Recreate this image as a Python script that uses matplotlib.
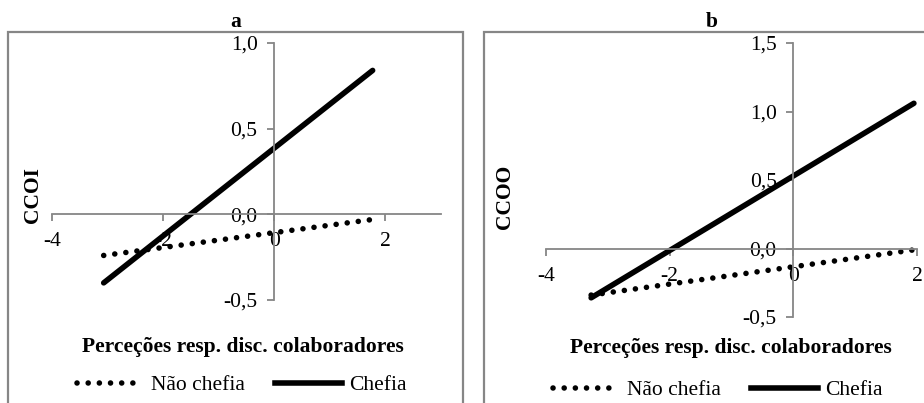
import numpy as np
import matplotlib.pyplot as plt
from matplotlib.patches import Rectangle
from matplotlib.lines import Line2D

plt.rcParams['font.family'] = ['Liberation Serif', 'DejaVu Serif']

# dados
x_a = [-3.07, 1.77]
nao_chefia_a = [-0.24, -0.03]
chefia_a = [-0.40, 0.84]

x_b = [-3.27, 1.95]
nao_chefia_b = [-0.34, -0.01]
chefia_b = [-0.36, 1.06]

xticks = [-4, -2, 0, 2]
xtick_labels = ['-4', '-2', '0', '2']
yticks_a = [-0.5, 0.0, 0.5, 1.0]
ytick_labels_a = ['-0,5', '0,0', '0,5', '1,0']
yticks_b = [-0.5, 0.0, 0.5, 1.0, 1.5]
ytick_labels_b = ['-0,5', '0,0', '0,5', '1,0', '1,5']

W, H = 924, 403
FS = 15.5
GRAY = '#868686'
DOT = (0, (0.01, 2.0))

fig = plt.figure(figsize=(W / 100, H / 100), dpi=100)


def px_axes(x0, x1, y0, y1):
    # caixa em pixels (origem no topo) -> coordenadas da figura
    return fig.add_axes([x0 / W, 1 - y1 / H, (x1 - x0) / W, (y1 - y0) / H])


def painel(ax, x, nao, chefia, xlim, ylim, yt, ytl):
    ax.plot(x, nao, color='black', linewidth=4.0, linestyle=DOT,
            dash_capstyle='round')
    ax.plot(x, chefia, color='black', linewidth=4.0, solid_capstyle='round')
    ax.set_xlim(*xlim)
    ax.set_ylim(*ylim)
    ax.patch.set_visible(False)
    for s in ['top', 'right']:
        ax.spines[s].set_visible(False)
    ax.spines['left'].set_position(('data', 0))
    ax.spines['bottom'].set_position(('data', 0))
    for s in ['left', 'bottom']:
        ax.spines[s].set_color(GRAY)
        ax.spines[s].set_linewidth(1.3)
    ax.set_xticks(xticks)
    ax.set_xticklabels(xtick_labels)
    ax.set_yticks(yt)
    ax.set_yticklabels(ytl)
    ax.tick_params(axis='both', direction='out', length=5, width=1.3,
                   color=GRAY, labelsize=FS)
    ax.tick_params(axis='y', pad=7)
    ax.tick_params(axis='x', pad=8)


def moldura(x0, x1, y0):
    fig.patches.append(Rectangle((x0 / W, -0.1), (x1 - x0) / W, 1 - y0 / H + 0.1,
                                 transform=fig.transFigure, fill=False,
                                 edgecolor=GRAY, linewidth=1.6, zorder=0))


def legenda(cx, cy):
    h1 = Line2D([], [], color='black', linewidth=4.0, linestyle=DOT,
                dash_capstyle='round')
    h2 = Line2D([], [], color='black', linewidth=4.0)
    fig.legend([h1, h2], ['Não chefia', 'Chefia'], ncol=2, frameon=False,
               loc='center', bbox_to_anchor=(cx / W, 1 - cy / H),
               fontsize=FS, handlelength=3.1, handletextpad=0.35,
               columnspacing=1.4, borderpad=0, borderaxespad=0)


# painel a
moldura(8, 463, 32)
ax_a = px_axes(52, 441, 43, 300)
painel(ax_a, x_a, nao_chefia_a, chefia_a, (-4, 3), (-0.5, 1.0), yticks_a, ytick_labels_a)
fig.text(236 / W, 1 - 22 / H, 'a', ha='center', va='center', fontsize=FS, fontweight='bold')
fig.text(33 / W, 1 - 195 / H, 'CCOI', ha='center', va='center', rotation=90,
         fontsize=FS, fontweight='bold')
fig.text(243 / W, 1 - 347 / H, 'Perceções resp. disc. colaboradores', ha='center',
         va='center', fontsize=FS, fontweight='bold')
legenda(242, 385)

# painel b
moldura(484, 940, 32)
ax_b = px_axes(546, 917, 43, 317)
painel(ax_b, x_b, nao_chefia_b, chefia_b, (-4, 2), (-0.5, 1.5), yticks_b, ytick_labels_b)
fig.text(712 / W, 1 - 22 / H, 'b', ha='center', va='center', fontsize=FS, fontweight='bold')
fig.text(505 / W, 1 - 197 / H, 'CCOO', ha='center', va='center', rotation=90,
         fontsize=FS, fontweight='bold')
fig.text(731 / W, 1 - 348 / H, 'Perceções resp. disc. colaboradores', ha='center',
         va='center', fontsize=FS, fontweight='bold')
legenda(718, 390)

fig.savefig('out.png', dpi=100)
